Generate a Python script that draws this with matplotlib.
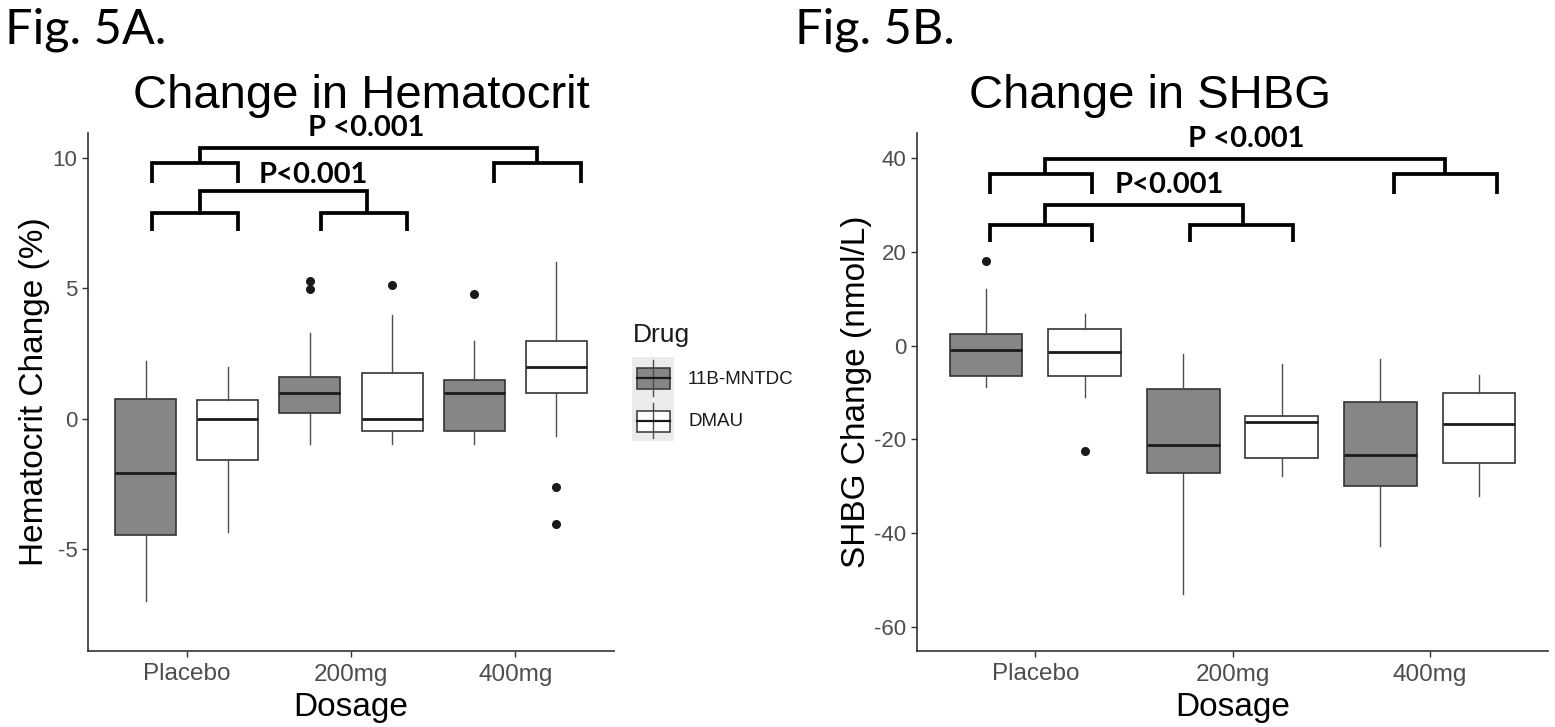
import matplotlib
matplotlib.use("Agg")
import matplotlib.pyplot as plt
from matplotlib.patches import Rectangle

plt.rcParams['font.family'] = ['Liberation Sans', 'DejaVu Sans']
plt.rcParams['axes.unicode_minus'] = False

DOSES = ["Placebo", "200mg", "400mg"]
DRUGS = ["11B-MNTDC", "DMAU"]

# Fig 5A: hematocrit change (%), order Placebo, 200mg, 400mg
hct_11b_q1 = [-4.44, 0.22, -0.48]
hct_11b_med = [-2.07, 1.0, 1.0]
hct_11b_q3 = [0.75, 1.59, 1.49]
hct_11b_lo = [-6.97, -0.99, -0.99]
hct_11b_hi = [2.2, 3.27, 2.99]
hct_11b_out = [[], [4.95, 5.26], [4.77]]

hct_dmau_q1 = [-1.6, -0.47, 0.98]
hct_dmau_med = [0.0, 0.0, 1.98]
hct_dmau_q3 = [0.7, 1.73, 2.99]
hct_dmau_lo = [-4.36, -0.99, -0.67]
hct_dmau_hi = [1.97, 3.97, 6.0]
hct_dmau_out = [[], [5.1], [-2.62, -4.02]]

# Fig 5B: SHBG change (nmol/L)
shbg_11b_q1 = [-6.46, -27.1, -29.9]
shbg_11b_med = [-0.85, -21.3, -23.3]
shbg_11b_q3 = [2.5, -9.23, -12.0]
shbg_11b_lo = [-8.87, -52.9, -42.7]
shbg_11b_hi = [12.0, -1.77, -2.77]
shbg_11b_out = [[18.0], [], []]

shbg_dmau_q1 = [-6.46, -24.0, -25.0]
shbg_dmau_med = [-1.42, -16.3, -16.8]
shbg_dmau_q3 = [3.63, -15.1, -10.15]
shbg_dmau_lo = [-10.9, -27.7, -32.0]
shbg_dmau_hi = [6.76, -3.9, -6.25]
shbg_dmau_out = [[-22.4], [], []]

P_LABEL = "P<0.001"
P_LABEL_TOP = "P <0.001"


def make_stats(q1, med, q3, lo, hi, out):
    return [dict(q1=a, med=b, q3=c, whislo=d, whishi=e, fliers=f)
            for a, b, c, d, e, f in zip(q1, med, q3, lo, hi, out)]


FILL = {"11B-MNTDC": "#868686", "DMAU": "white"}
OFFSET = {"11B-MNTDC": -0.25, "DMAU": 0.25}
INK = '#333333'
TXT = '#4d4d4d'


def draw_boxes(ax, stats_by_drug):
    for drug, stats in stats_by_drug.items():
        pos = [i + 1 + OFFSET[drug] for i in range(len(stats))]
        ax.bxp(stats, positions=pos, widths=0.37, patch_artist=True, showcaps=False,
               manage_ticks=False,
               boxprops=dict(facecolor=FILL[drug], edgecolor=INK, linewidth=1.2),
               medianprops=dict(color='#1a1a1a', linewidth=2.0),
               whiskerprops=dict(color='#4d4d4d', linewidth=1.0),
               flierprops=dict(marker='o', markerfacecolor='#1a1a1a',
                               markeredgecolor='#1a1a1a', markersize=5.5))


def style(ax, ylim, yticks, ylabel):
    ax.set_xlim(0.4, 3.6)
    ax.set_ylim(*ylim)
    ax.set_yticks(yticks)
    ax.set_xticks([1, 2, 3])
    ax.set_xticklabels(DOSES)
    for s in ['top', 'right']:
        ax.spines[s].set_visible(False)
    for s in ['left', 'bottom']:
        ax.spines[s].set_color(INK)
        ax.spines[s].set_linewidth(1.2)
    ax.tick_params(colors=INK, labelcolor=TXT, length=4, width=1)
    ax.tick_params(axis='y', labelsize=16)
    ax.tick_params(axis='x', labelsize=17.5, pad=5)
    ax.set_xlabel("Dosage", fontsize=24, labelpad=5)
    ax.set_ylabel(ylabel, fontsize=24, labelpad=2)


BK = dict(color='black', lw=2.7, solid_joinstyle='miter', solid_capstyle='butt', clip_on=False)


def pair(ax, x0, x1, h, low):
    ax.plot([x0, x0, x1, x1], [low, h, h, low], **BK)


def join(ax, s0, s1, h, top):
    ax.plot([s0, s0, s1, s1], [h, top, top, h], **BK)


def plabel(ax, x, y, s):
    ax.text(x, y, s, ha='center', va='center', fontsize=21, fontweight='bold',
            family=['Lato', 'DejaVu Sans'], clip_on=False)


fig = plt.figure(figsize=(15.55, 7.27), dpi=100, facecolor='white')

# ── Panel A ──
axA = fig.add_axes([88/1555, 76/727, 526/1555, 518/727])
draw_boxes(axA, {
    "11B-MNTDC": make_stats(hct_11b_q1, hct_11b_med, hct_11b_q3, hct_11b_lo, hct_11b_hi, hct_11b_out),
    "DMAU": make_stats(hct_dmau_q1, hct_dmau_med, hct_dmau_q3, hct_dmau_lo, hct_dmau_hi, hct_dmau_out),
})
style(axA, (-8.9, 10.94), [-5, 0, 5, 10], "Hematocrit Change (%)")

pair(axA, 0.79, 1.31, 9.79, 9.03)
pair(axA, 2.87, 3.40, 9.79, 9.03)
join(axA, 1.08, 3.13, 9.79, 10.36)
plabel(axA, 2.09, 11.13, P_LABEL_TOP)

pair(axA, 0.79, 1.31, 7.89, 7.19)
pair(axA, 1.82, 2.34, 7.89, 7.19)
join(axA, 1.08, 2.10, 7.89, 8.70)
plabel(axA, 1.77, 9.33, P_LABEL)

# ── Panel B ──
axB = fig.add_axes([917/1555, 76/727, 631/1555, 518/727])
draw_boxes(axB, {
    "11B-MNTDC": make_stats(shbg_11b_q1, shbg_11b_med, shbg_11b_q3, shbg_11b_lo, shbg_11b_hi, shbg_11b_out),
    "DMAU": make_stats(shbg_dmau_q1, shbg_dmau_med, shbg_dmau_q3, shbg_dmau_lo, shbg_dmau_hi, shbg_dmau_out),
})
style(axB, (-65.1, 45.3), [-60, -40, -20, 0, 20, 40], "SHBG Change (nmol/L)")

pair(axB, 0.77, 1.286, 36.5, 32.3)
pair(axB, 2.82, 3.34, 36.5, 32.3)
join(axB, 1.049, 3.077, 36.5, 39.74)
plabel(axB, 2.07, 44.1, P_LABEL_TOP)

pair(axB, 0.77, 1.286, 25.7, 22.0)
pair(axB, 1.784, 2.305, 25.7, 22.0)
join(axB, 1.049, 2.052, 25.7, 30.0)
plabel(axB, 1.68, 34.3, P_LABEL)

# ── Titles / figure labels ──
fig.text(361/1555, 1 - 96/727, "Change in Hematocrit", ha='center', va='center', fontsize=34)
fig.text(1150/1555, 1 - 96/727, "Change in SHBG", ha='center', va='center', fontsize=34)
fig.text(5/1555, 1 - 30/727, "Fig. 5A.", ha='left', va='center', fontsize=35,
         family=['Lato', 'DejaVu Sans'])
fig.text(795/1555, 1 - 30/727, "Fig. 5B.", ha='left', va='center', fontsize=35,
         family=['Lato', 'DejaVu Sans'])

# ── Legend (panel A) ──
fig.text(633/1555, 1 - 335/727, "Drug", ha='left', va='center', fontsize=19, color='#1a1a1a')
axL = fig.add_axes([632/1555, 1 - 441/727, 42/1555, 84/727])
axL.set_xlim(0, 1); axL.set_ylim(0, 1)
axL.set_facecolor('#ebebeb')
for s in axL.spines.values():
    s.set_visible(False)
axL.set_xticks([]); axL.set_yticks([])
for (b0, b1, w0, w1), drug in zip([(0.62, 0.87, 0.53, 0.96), (0.11, 0.36, 0.03, 0.45)], DRUGS):
    axL.plot([0.5, 0.5], [w0, w1], color='#4d4d4d', lw=1.0)
    axL.add_patch(Rectangle((0.12, b0), 0.78, b1 - b0, facecolor=FILL[drug], edgecolor=INK, lw=1.1))
    axL.plot([0.12, 0.90], [(b0 + b1) / 2] * 2, color='#1a1a1a', lw=1.6)
fig.text(688/1555, 1 - 379/727, DRUGS[0], ha='left', va='center', fontsize=13.5, color='#1a1a1a')
fig.text(688/1555, 1 - 421/727, DRUGS[1], ha='left', va='center', fontsize=13.5, color='#1a1a1a')

fig.savefig("out.png", dpi=100, facecolor='white')
